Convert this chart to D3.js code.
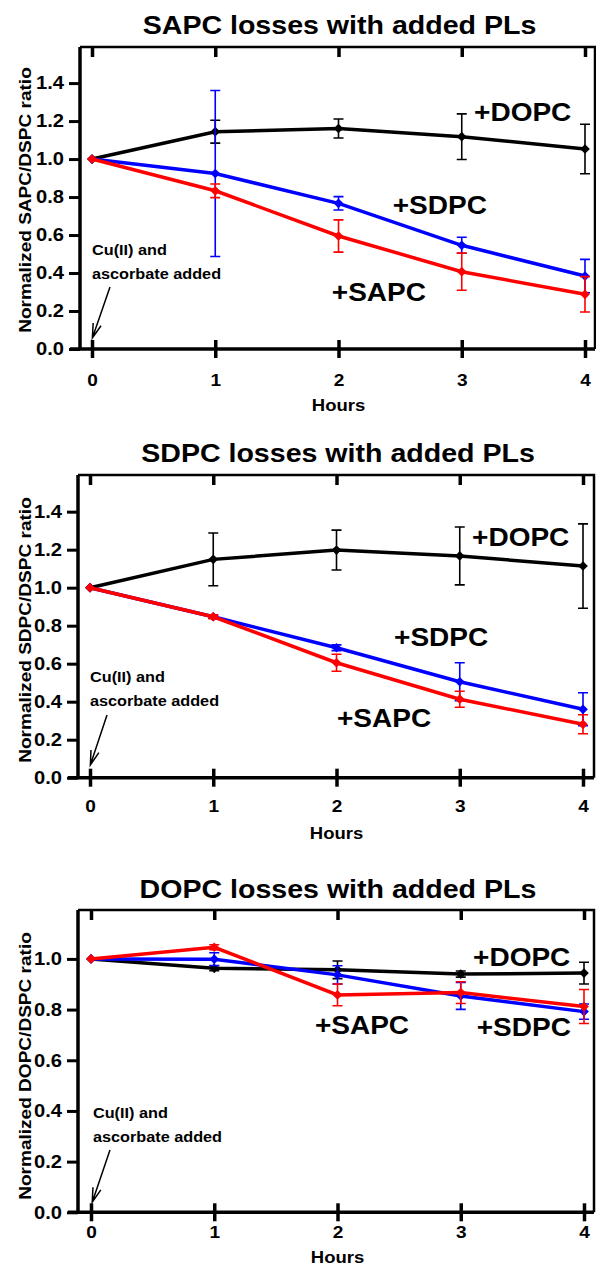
<!DOCTYPE html>
<html>
<head>
<meta charset="utf-8">
<script src="https://cdn.jsdelivr.net/npm/d3@7"></script>
<style>
  body { margin: 0; background: #fff; }
  text { font-family: "Liberation Sans", Arial, sans-serif; font-weight: bold; fill: #000; }
</style>
</head>
<body>
<div id="chart"></div>
<script>
// Données
const hours = [0, 1, 2, 3, 4];
const hourLabels = ["0", "1", "2", "3", "4"];
const seriesNames = ["+DOPC", "+SDPC", "+SAPC"];
const titles = ["SAPC losses with added PLs", "SDPC losses with added PLs", "DOPC losses with added PLs"];
const yLabels = ["Normalized SAPC/DSPC ratio", "Normalized SDPC/DSPC ratio", "Normalized DOPC/DSPC ratio"];
const yTicksTall = [0, 0.2, 0.4, 0.6, 0.8, 1.0, 1.2, 1.4];
const yTicksShort = [0, 0.2, 0.4, 0.6, 0.8, 1.0];

// Panneau 1 : pertes de SAPC
const sapcDOPC = [1.0, 1.144, 1.161, 1.118, 1.053];
const sapcDOPCErr = [0, 0.06, 0.05, 0.12, 0.13];
const sapcSDPC = [1.0, 0.924, 0.767, 0.546, 0.384];
const sapcSDPCErr = [0, 0.437, 0.035, 0.042, 0.088];
const sapcSAPC = [1.0, 0.833, 0.595, 0.407, 0.288];
const sapcSAPCErr = [0, 0.036, 0.085, 0.098, 0.093];

// Panneau 2 : pertes de SDPC
const sdpcDOPC = [1.0, 1.149, 1.198, 1.167, 1.114];
const sdpcDOPCErr = [0, 0.139, 0.105, 0.152, 0.222];
const sdpcSDPC = [1.0, 0.847, 0.684, 0.505, 0.36];
const sdpcSDPCErr = [0, 0.008, 0.015, 0.1, 0.087];
const sdpcSAPC = [1.0, 0.847, 0.605, 0.413, 0.281];
const sdpcSAPCErr = [0, 0.01, 0.045, 0.042, 0.05];

// Panneau 3 : pertes de DOPC
const dopcDOPC = [1.0, 0.963, 0.957, 0.94, 0.944];
const dopcDOPCErr = [0, 0.01, 0.035, 0.012, 0.043];
const dopcSDPC = [1.0, 0.999, 0.937, 0.854, 0.792];
const dopcSDPCErr = [0, 0.025, 0.036, 0.053, 0.03];
const dopcSAPC = [1.0, 1.046, 0.858, 0.867, 0.812];
const dopcSAPCErr = [0, 0.01, 0.043, 0.043, 0.067];

const colors = ["#000000", "#0000ff", "#ff0000"];
const stretch = 1.12; // le texte de la figure est un peu étiré en largeur

const panels = [
  { top: 47, bottom: 349, left: 80, right: 595, x0: 92, x1: 585, yMax: 1.59, yTicks: yTicksTall,
    series: [[sapcDOPC, sapcDOPCErr], [sapcSDPC, sapcSDPCErr], [sapcSAPC, sapcSAPCErr]],
    labels: [[3.1, 1.247], [2.44, 0.758], [1.946, 0.3]],
    note: [0, 0.52, 0.395], arrow: [0.146, 0.326, 0.003, 0.058],
    titleY: 25, tickY: 380, hoursY: 405, yLabelY: 200 },
  { top: 475, bottom: 777.7, left: 78, right: 594, x0: 90, x1: 583, yMax: 1.593, yTicks: yTicksTall,
    series: [[sdpcDOPC, sdpcDOPCErr], [sdpcSDPC, sdpcSDPCErr], [sdpcSAPC, sdpcSAPCErr]],
    labels: [[3.1, 1.267], [2.467, 0.741], [2.004, 0.314]],
    note: [0, 0.53, 0.404], arrow: [0.138, 0.33, 0.003, 0.067],
    titleY: 453, tickY: 807, hoursY: 833, yLabelY: 630 },
  { top: 910, bottom: 1212.3, left: 78, right: 594, x0: 91, x1: 584, yMax: 1.193, yTicks: yTicksShort,
    series: [[dopcDOPC, dopcDOPCErr], [dopcSDPC, dopcSDPCErr], [dopcSAPC, dopcSAPCErr]],
    labels: [[3.1, 1.008], [3.13, 0.731], [1.817, 0.739]],
    note: [0.016, 0.392, 0.297], arrow: [0.154, 0.246, 0.01, 0.04],
    titleY: 889, tickY: 1233, hoursY: 1257, yLabelY: 1066 }
];

const svg = d3.select("#chart")
  .append("svg")
  .attr("width", 596)
  .attr("height", 1268);

panels.forEach((p, i) => {
  const x = d3.scaleLinear().domain([0, 4]).range([p.x0, p.x1]);
  const y = d3.scaleLinear().domain([0, p.yMax]).range([p.bottom, p.top]);
  const g = svg.append("g");

  // Titre
  g.append("text")
    .attr("x", (p.left + p.right) / 2 + 2)
    .attr("y", p.titleY)
    .attr("text-anchor", "middle")
    .attr("dominant-baseline", "central")
    .style("font-size", "25.5px")
    .text(titles[i]);

  // Cadre haut et droit
  g.append("path")
    .attr("d", `M${p.left},${p.top}H${p.right}V${p.bottom}`)
    .attr("fill", "none")
    .attr("stroke", "#000")
    .attr("stroke-width", 2.5);

  // Axe Y
  const yAxis = g.append("g")
    .attr("transform", `translate(${p.left},0)`)
    .call(d3.axisLeft(y).tickValues(p.yTicks).tickFormat(d3.format(".1f")).tickSizeInner(11).tickSizeOuter(0).tickPadding(5));
  yAxis.select(".domain").attr("stroke-width", 3.5).attr("d", `M0,${p.top}V${p.bottom}`);
  yAxis.selectAll(".tick line").attr("stroke-width", 3);
  yAxis.selectAll(".tick text").style("font-size", "18px").attr("font-family", null);

  // Axe X
  const xAxis = g.append("g")
    .attr("transform", `translate(0,${p.bottom})`)
    .call(d3.axisBottom(x).tickValues(hours).tickFormat((d, j) => hourLabels[j]).tickSizeOuter(0).tickPadding(12));
  xAxis.select(".domain").attr("stroke-width", 3.5).attr("d", `M${p.left - 10},0H${p.right}`);
  xAxis.selectAll(".tick line").attr("y1", -9).attr("y2", 9).attr("stroke-width", 3.5);
  xAxis.selectAll(".tick text").style("font-size", "17px").attr("font-family", null)
    .attr("y", p.tickY - p.bottom).attr("dy", null).attr("dominant-baseline", "central");

  // Graduations du haut
  const topAxis = g.append("g")
    .attr("transform", `translate(0,${p.top})`)
    .call(d3.axisTop(x).tickValues(hours).tickSizeInner(-10).tickSizeOuter(0).tickFormat(""));
  topAxis.select(".domain").remove();
  topAxis.selectAll(".tick line").attr("stroke-width", 3.5);

  // Titre des axes
  g.append("text")
    .attr("x", p.x0 + (p.x1 - p.x0) / 2)
    .attr("y", p.hoursY)
    .attr("text-anchor", "middle")
    .attr("dominant-baseline", "central")
    .style("font-size", "16.5px")
    .text("Hours");

  g.append("text")
    .attr("transform", `translate(25,${p.yLabelY}) rotate(-90)`)
    .attr("text-anchor", "middle")
    .attr("dominant-baseline", "central")
    .style("font-size", "17px")
    .text(yLabels[i]);

  // Séries
  const line = d3.line().x((d, j) => x(hours[j])).y(d => y(d));
  p.series.forEach(([vals, errs], k) => {
    const s = g.append("g");
    // barres d'erreur
    hours.forEach((h, j) => {
      if (!errs[j]) return;
      const cx = x(h), yt = y(vals[j] + errs[j]), yb = y(vals[j] - errs[j]);
      s.append("path")
        .attr("d", `M${cx},${yt}V${yb}M${cx - 5},${yt}H${cx + 5}M${cx - 5},${yb}H${cx + 5}`)
        .attr("fill", "none")
        .attr("stroke", colors[k])
        .attr("stroke-width", 1.6);
    });
    s.append("path")
      .datum(vals)
      .attr("d", line)
      .attr("fill", "none")
      .attr("stroke", colors[k])
      .attr("stroke-width", 3.5);
    s.selectAll("path.pt")
      .data(vals)
      .enter()
      .append("path")
      .attr("class", "pt")
      .attr("d", d3.symbol(d3.symbolDiamond2, 60))
      .attr("transform", (d, j) => `translate(${x(hours[j])},${y(d)})`)
      .attr("fill", colors[k]);
  });

  // Étiquettes des séries
  p.labels.forEach((pos, k) => {
    g.append("text")
      .attr("x", x(pos[0]))
      .attr("y", y(pos[1]))
      .attr("dominant-baseline", "central")
      .style("font-size", "25px")
      .text(seriesNames[k]);
  });

  // Annotation Cu(II)
  g.append("text")
    .attr("x", x(p.note[0]))
    .attr("y", y(p.note[1]))
    .attr("dominant-baseline", "central")
    .style("font-size", "14.5px")
    .text("Cu(II) and");
  g.append("text")
    .attr("x", x(p.note[0]))
    .attr("y", y(p.note[2]))
    .attr("dominant-baseline", "central")
    .style("font-size", "14.5px")
    .text("ascorbate added");

  const ax0 = x(p.arrow[0]), ay0 = y(p.arrow[1]), ax1 = x(p.arrow[2]), ay1 = y(p.arrow[3]);
  const ang = Math.atan2(ay0 - ay1, ax0 - ax1);
  const hl = 15, ha = 0.28;
  g.append("path")
    .attr("d", `M${ax0},${ay0}L${ax1},${ay1}` +
      `M${ax1 + hl * Math.cos(ang - ha)},${ay1 + hl * Math.sin(ang - ha)}L${ax1},${ay1}` +
      `L${ax1 + hl * Math.cos(ang + ha)},${ay1 + hl * Math.sin(ang + ha)}`)
    .attr("fill", "none")
    .attr("stroke", "#000")
    .attr("stroke-width", 1.5);
});

// Étire tous les textes en largeur comme sur la figure
svg.selectAll("text").each(function () {
  const w = this.getComputedTextLength();
  if (w > 0) {
    d3.select(this)
      .attr("textLength", w * stretch)
      .attr("lengthAdjust", "spacingAndGlyphs");
  }
});
</script>
</body>
</html>
